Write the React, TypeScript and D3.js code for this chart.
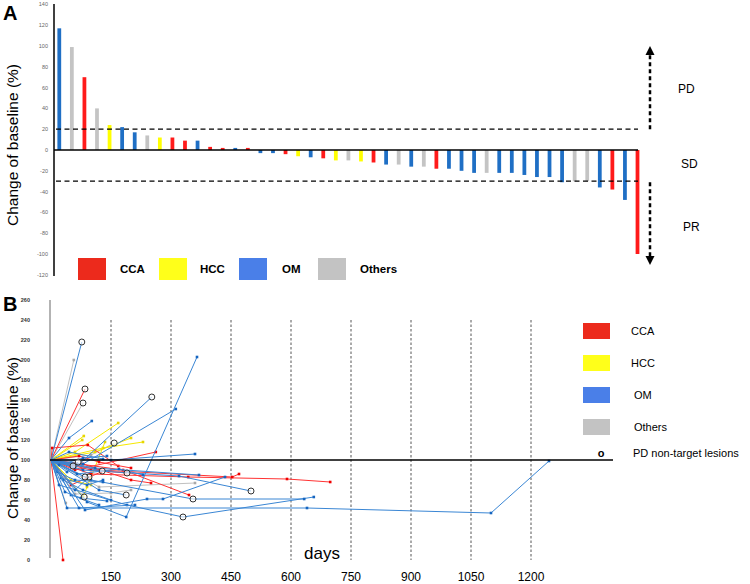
import React from 'react';
import * as d3 from 'd3';

// ---------- Panel A data ----------
const barValues = [117, 99, 70, 40, 24, 22, 17, 14, 12, 12, 9, 9, 3, 2, 2, 2, -3, -3, -4, -6, -7, -8, -10, -10, -11, -12, -14, -14, -16, -16, -18, -18, -20, -22, -22, -22, -22, -24, -26, -26, -31, -30, -30, -36, -38, -48, -100];
const barTypes = ['OM', 'Others', 'CCA', 'Others', 'HCC', 'OM', 'OM', 'Others', 'HCC', 'CCA', 'CCA', 'OM', 'CCA', 'CCA', 'OM', 'CCA', 'OM', 'OM', 'CCA', 'HCC', 'OM', 'CCA', 'HCC', 'Others', 'HCC', 'CCA', 'OM', 'Others', 'OM', 'Others', 'CCA', 'OM', 'OM', 'OM', 'Others', 'OM', 'OM', 'OM', 'OM', 'OM', 'OM', 'Others', 'Others', 'OM', 'CCA', 'OM', 'CCA'];
const aTicks = [-120, -100, -80, -60, -40, -20, 0, 20, 40, 60, 80, 100, 120, 140];
const categories = ['CCA', 'HCC', 'OM', 'Others'];

// ---------- Panel B data (days, % of baseline); every line starts at [0,100] ----------
type Series = { t: string; p: number[][]; c: number[] };
const spider: Series[] = [
  { t: 'OM', p: [[77, 218]], c: [0] },
  { t: 'Others', p: [[57, 200]], c: [] },
  { t: 'CCA', p: [[85, 171]], c: [0] },
  { t: 'Others', p: [[80, 157]], c: [0] },
  { t: 'OM', p: [[45, 122], [102, 139]], c: [] },
  { t: 'OM', p: [[60, 92], [252, 163]], c: [1] },
  { t: 'OM', p: [[80, 96], [312, 151]], c: [] },
  { t: 'OM', p: [[90, 58], [188, 43], [365, 203]], c: [] },
  { t: 'HCC', p: [[82, 124]], c: [] },
  { t: 'HCC', p: [[60, 108], [168, 137]], c: [] },
  { t: 'HCC', p: [[110, 108], [200, 122]], c: [] },
  { t: 'HCC', p: [[130, 112], [230, 118]], c: [] },
  { t: 'HCC', p: [[78, 120]], c: [] },
  { t: 'HCC', p: [[80, 63], [90, 73], [135, 118]], c: [] },
  { t: 'HCC', p: [[50, 80], [100, 75]], c: [] },
  { t: 'CCA', p: [[3, 112], [92, 115], [168, 94]], c: [] },
  { t: 'CCA', p: [[60, 90], [262, 108]], c: [] },
  { t: 'CCA', p: [[100, 86], [343, 83], [590, 81], [698, 78]], c: [] },
  { t: 'CCA', p: [[120, 90], [453, 83], [470, 86]], c: [] },
  { t: 'CCA', p: [[30, 0]], c: [] },
  { t: 'CCA', p: [[180, 90], [345, 65]], c: [] },
  { t: 'CCA', p: [[80, 96], [200, 80], [250, 77]], c: [] },
  { t: 'CCA', p: [[50, 75], [125, 88]], c: [] },
  { t: 'CCA', p: [[70, 104], [120, 98], [200, 92]], c: [] },
  { t: 'OM', p: [[40, 52], [640, 52], [1100, 47], [1245, 99]], c: [] },
  { t: 'OM', p: [[20, 75], [190, 55], [330, 43], [657, 63]], c: [2] },
  { t: 'OM', p: [[100, 80], [355, 61], [633, 61]], c: [1] },
  { t: 'OM', p: [[80, 90], [320, 84], [500, 69]], c: [2] },
  { t: 'OM', p: [[110, 92], [370, 85]], c: [] },
  { t: 'OM', p: [[150, 100], [360, 106]], c: [] },
  { t: 'OM', p: [[85, 50], [240, 61], [280, 61], [435, 83]], c: [] },
  { t: 'OM', p: [[55, 94]], c: [0] },
  { t: 'OM', p: [[40, 88], [68, 98]], c: [1] },
  { t: 'OM', p: [[60, 70], [95, 83]], c: [1] },
  { t: 'OM', p: [[128, 89]], c: [0] },
  { t: 'CCA', p: [[100, 90], [190, 87]], c: [1] },
  { t: 'OM', p: [[120, 70], [188, 65]], c: [1] },
  { t: 'Others', p: [[83, 63]], c: [0] },
  { t: 'Others', p: [[100, 105], [158, 117]], c: [1] },
  { t: 'OM', p: [[85, 83]], c: [0] },
  { t: 'OM', p: [[30, 80], [80, 70], [150, 60]], c: [] },
  { t: 'OM', p: [[25, 82], [90, 75], [130, 80]], c: [] },
  { t: 'OM', p: [[50, 65], [120, 55]], c: [] },
  { t: 'OM', p: [[15, 88], [60, 80], [130, 78]], c: [] },
  { t: 'OM', p: [[35, 68], [75, 62], [140, 59]], c: [] },
  { t: 'Others', p: [[37, 57]], c: [] },
  { t: 'Others', p: [[120, 73], [360, 77]], c: [] },
  { t: 'Others', p: [[60, 66], [150, 67], [200, 70]], c: [] },
  { t: 'OM', p: [[65, 86], [170, 91], [230, 85]], c: [] },
  { t: 'OM', p: [[45, 108], [130, 101]], c: [] },
  { t: 'OM', p: [[20, 95], [80, 102], [140, 104]], c: [] },
  { t: 'OM', p: [[70, 52], [210, 55]], c: [] },
];
const bYTicks = [0, 20, 40, 60, 80, 100, 120, 140, 160, 180, 200, 220, 240, 260];
const bXTicks = [150, 300, 450, 600, 750, 900, 1050, 1200];

const barColor: Record<string, string> = { CCA: '#ff1a1a', HCC: '#ffff00', OM: '#1f6fc5', Others: '#c4c4c4' };
const legAColor: Record<string, string> = { CCA: '#ec2a1c', HCC: '#ffff1a', OM: '#4a7fe8', Others: '#c3c3c3' };
const lineColor: Record<string, string> = { CCA: '#ff3333', HCC: '#f5e800', OM: '#3a86d4', Others: '#c0c0c0' };
const dotColor: Record<string, string> = { CCA: '#f00000', HCC: '#e6d600', OM: '#1565c0', Others: '#a8a8a8' };

const FONT = "Arial, 'Liberation Sans', sans-serif";

export default function App() {
  // Panel A scales
  const xA = d3.scaleBand<number>().domain(d3.range(barValues.length)).range([53, 53 + barValues.length * 12.57]).paddingInner(0.7).paddingOuter(0.35);
  const yA = d3.scaleLinear().domain([-120, 140]).range([274.8, 4.4]);

  // Panel B scales
  const xB = d3.scaleLinear().domain([0, 1250]).range([51, 551]);
  const yB = d3.scaleLinear().domain([0, 260]).range([560, 300]);
  const line = d3.line<number[]>().x(d => xB(d[0])).y(d => yB(d[1]));

  const legA = [
    { k: 'CCA', rx: 78, tx: 120 },
    { k: 'HCC', rx: 159, tx: 200 },
    { k: 'OM', rx: 239, tx: 282 },
    { k: 'Others', rx: 318, tx: 360 },
  ];
  const legB = [
    { k: 'CCA', y: 323, tx: 631 },
    { k: 'HCC', y: 355, tx: 631 },
    { k: 'OM', y: 387, tx: 634 },
    { k: 'Others', y: 419, tx: 634 },
  ];

  const order = ['Others', 'HCC', 'CCA', 'OM'];
  const sorted = [...spider].sort((a, b) => order.indexOf(a.t) - order.indexOf(b.t));

  return (
    <svg width={750} height={584} style={{ position: 'absolute', left: 0, top: 0, background: '#fff' }} fontFamily={FONT}>
      <defs>
        <marker id="arrUp" viewBox="0 0 10 10" refX="5" refY="5" markerWidth="4" markerHeight="4" orient="auto">
          <path d="M0,0 L10,5 L0,10 z" fill="#000" />
        </marker>
      </defs>
      <rect x={0} y={0} width={750} height={584} fill="#fff" />

      {/* ================= Panel A ================= */}
      <text x={3} y={20} fontSize={20} fontWeight="bold">A</text>
      <text transform="translate(18,145) rotate(-90)" textAnchor="middle" fontSize={15.5}>Change of baseline (%)</text>
      <line x1={54} x2={54} y1={4} y2={276} stroke="#000" strokeWidth={1.5} />
      {aTicks.map(t => (
        <text key={t} x={48} y={yA(t) + 2} textAnchor="end" fontSize={5.5} fill="#666">{t}</text>
      ))}
      {barValues.map((v, i) => (
        <rect key={i} x={xA(i)} width={xA.bandwidth()} y={Math.min(yA(v), yA(0))} height={Math.abs(yA(v) - yA(0))} fill={barColor[barTypes[i]]} />
      ))}
      <line x1={54} x2={638} y1={yA(0)} y2={yA(0)} stroke="#000" strokeWidth={1.5} />
      <line x1={56} x2={638} y1={yA(20)} y2={yA(20)} stroke="#000" strokeWidth={1.3} strokeDasharray="5,3.5" />
      <line x1={56} x2={638} y1={yA(-30)} y2={yA(-30)} stroke="#000" strokeWidth={1.3} strokeDasharray="5,3.5" />
      {/* arrows */}
      <line x1={650} x2={650} y1={yA(20)} y2={54} stroke="#000" strokeWidth={2.5} strokeDasharray="4,3" />
      <path d="M645.5,55 L650,46 L654.5,55 Z" fill="#000" />
      <line x1={650} x2={650} y1={yA(-30) + 1} y2={256} stroke="#000" strokeWidth={2.5} strokeDasharray="4,3" />
      <path d="M645.5,256 L650,265 L654.5,256 Z" fill="#000" />
      <text x={678} y={93} fontSize={12}>PD</text>
      <text x={681} y={168} fontSize={12}>SD</text>
      <text x={683} y={231} fontSize={12}>PR</text>
      {legA.map(l => (
        <g key={l.k}>
          <rect x={l.rx} y={258} width={28} height={22} fill={legAColor[l.k]} />
          <text x={l.tx} y={273} fontSize={11.5} fontWeight="bold">{l.k}</text>
        </g>
      ))}

      {/* ================= Panel B ================= */}
      <text x={3} y={311} fontSize={20} fontWeight="bold">B</text>
      <text transform="translate(18,438) rotate(-90)" textAnchor="middle" fontSize={15.5}>Change of baseline (%)</text>
      <line x1={50} x2={50} y1={300} y2={558} stroke="#9a9a9a" strokeWidth={1.5} />
      {bYTicks.map(t => (
        <text key={t} x={30} y={yB(t) + 2} textAnchor="end" fontSize={5.5} fontWeight="bold" fill="#333">{t}</text>
      ))}
      {bXTicks.map(t => (
        <g key={t}>
          <line x1={xB(t)} x2={xB(t)} y1={320} y2={560} stroke="#555" strokeWidth={1} strokeDasharray="2.5,2" />
          <text x={xB(t)} y={581} textAnchor="middle" fontSize={12}>{t}</text>
        </g>
      ))}
      <text x={322} y={559} textAnchor="middle" fontSize={17}>days</text>

      {sorted.map((s, i) => {
        const pts = [[0, 100], ...s.p];
        return (
          <g key={i}>
            <path d={line(pts) || ''} fill="none" stroke={lineColor[s.t]} strokeWidth={1} />
            {s.p.map((p, j) =>
              s.c.includes(j) ? null : (
                <rect key={j} x={xB(p[0]) - 1.3} y={yB(p[1]) - 1.3} width={2.6} height={2.6} fill={dotColor[s.t]} />
              )
            )}
          </g>
        );
      })}
      <line x1={50} x2={613} y1={yB(100)} y2={yB(100)} stroke="#000" strokeWidth={1.5} />
      {spider.map((s, i) =>
        s.c.map(j => (
          <circle key={`${i}-${j}`} cx={xB(s.p[j][0])} cy={yB(s.p[j][1])} r={3} fill="#fff" fillOpacity={0.6} stroke="#333" strokeWidth={1} />
        ))
      )}

      {legB.map(l => (
        <g key={l.k}>
          <rect x={583} y={l.y} width={27} height={16} fill={legAColor[l.k]} />
          <text x={l.tx} y={l.y + 12} fontSize={11}>{l.k}</text>
        </g>
      ))}
      <text x={601} y={457} textAnchor="middle" fontSize={11} fontWeight="bold">o</text>
      <text x={633} y={457} fontSize={11}>PD non-target lesions</text>
    </svg>
  );
}
